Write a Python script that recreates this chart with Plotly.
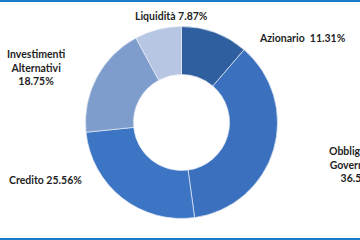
import plotly.graph_objects as go

categories = ["Azionario", "Obbligazioni Governative", "Credito", "Investimenti Alternativi", "Liquidità"]
values = [11.31, 36.51, 25.56, 18.75, 7.87]
colors = ["#2F5F9E", "#3A70BD", "#3C75C4", "#7E9CCC", "#B7C6E2"]
label_texts = ["Azionario  11.31%", "Obbligazioni<br>Governative<br>36.51%", "Credito 25.56%",
               "Investimenti<br>Alternativi<br>18.75%", "Liquidità 7.87%"]
label_pos = [(302, 38), (358, 164), (45, 180), (36, 67), (171, 16)]

W, H = 360, 240
cx, cy, r = 181.5, 122.5, 96

fig = go.Figure(go.Pie(
    labels=categories, values=values, hole=0.5, sort=False, direction="clockwise",
    rotation=0, marker=dict(colors=colors, line=dict(color="rgba(230,235,245,0.7)", width=1)),
    textinfo="none", hoverinfo="label+percent", showlegend=False,
    domain=dict(x=[(cx - r) / W, (cx + r) / W], y=[1 - (cy + r) / H, 1 - (cy - r) / H]),
))

for t, (px, py) in zip(label_texts, label_pos):
    fig.add_annotation(text=t, x=px / W, y=1 - py / H, xref="paper", yref="paper",
                       showarrow=False, xanchor="center", yanchor="middle", align="center",
                       font=dict(family="Lato", size=10.5, color="#1F1F1F", weight="bold"))

fig.add_shape(type="rect", xref="paper", yref="paper", x0=0, x1=1, y0=1 - 2 / H, y1=1,
              fillcolor="#1C7ACB", line_width=0)
fig.add_shape(type="rect", xref="paper", yref="paper", x0=0, x1=1, y0=0, y1=2 / H,
              fillcolor="#1C7ACB", line_width=0)

fig.update_layout(width=W, height=H, margin=dict(l=0, r=0, t=0, b=0),
                  paper_bgcolor="white", plot_bgcolor="white")
fig.write_html("out.html")
